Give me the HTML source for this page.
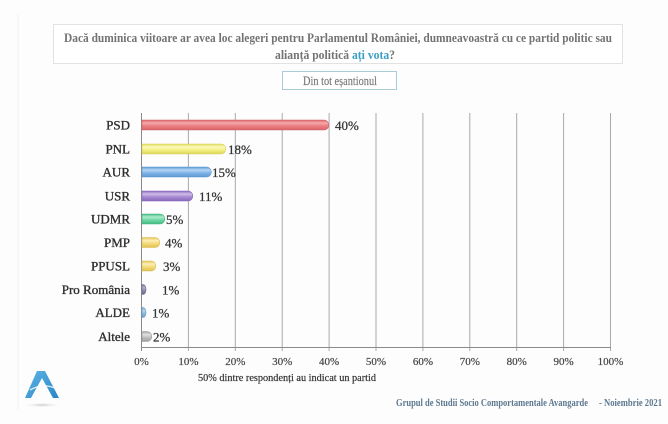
<!DOCTYPE html>
<html><head><meta charset="utf-8"><style>
html,body{margin:0;padding:0;background:#fdfdfd;}
svg{display:block;}
text{font-family:"Liberation Serif","DejaVu Serif",serif;}
</style></head><body>
<svg width="668" height="424" viewBox="0 0 668 424" xmlns="http://www.w3.org/2000/svg">
<defs>
<linearGradient id="gPSD" x1="0" y1="0" x2="0" y2="1"><stop offset="0" stop-color="#d9666b"/><stop offset="0.3" stop-color="#f4a9ab"/><stop offset="0.6" stop-color="#ec7d81"/><stop offset="1" stop-color="#d7646a"/></linearGradient>
<linearGradient id="gPNL" x1="0" y1="0" x2="0" y2="1"><stop offset="0" stop-color="#e2dc5e"/><stop offset="0.3" stop-color="#fbf9bd"/><stop offset="0.6" stop-color="#f4ef82"/><stop offset="1" stop-color="#dcd55a"/></linearGradient>
<linearGradient id="gAUR" x1="0" y1="0" x2="0" y2="1"><stop offset="0" stop-color="#5f9bd6"/><stop offset="0.3" stop-color="#b6d6f3"/><stop offset="0.6" stop-color="#7fb4e7"/><stop offset="1" stop-color="#5d97d1"/></linearGradient>
<linearGradient id="gUSR" x1="0" y1="0" x2="0" y2="1"><stop offset="0" stop-color="#8a6bbf"/><stop offset="0.3" stop-color="#d0bde9"/><stop offset="0.6" stop-color="#a68ad2"/><stop offset="1" stop-color="#8767bd"/></linearGradient>
<linearGradient id="gUDMR" x1="0" y1="0" x2="0" y2="1"><stop offset="0" stop-color="#45bd84"/><stop offset="0.3" stop-color="#aeeccd"/><stop offset="0.6" stop-color="#6fd6a4"/><stop offset="1" stop-color="#44b880"/></linearGradient>
<linearGradient id="gPMP" x1="0" y1="0" x2="0" y2="1"><stop offset="0" stop-color="#e4c553"/><stop offset="0.3" stop-color="#fbefb9"/><stop offset="0.6" stop-color="#f4da7a"/><stop offset="1" stop-color="#dfc050"/></linearGradient>
<linearGradient id="gPRO" x1="0" y1="0" x2="0" y2="1"><stop offset="0" stop-color="#6d6d92"/><stop offset="0.3" stop-color="#b6b6cf"/><stop offset="0.6" stop-color="#8a8aac"/><stop offset="1" stop-color="#6a6a8e"/></linearGradient>
<linearGradient id="gALDE" x1="0" y1="0" x2="0" y2="1"><stop offset="0" stop-color="#6aa3cf"/><stop offset="0.3" stop-color="#bcdaf0"/><stop offset="0.6" stop-color="#8bbde0"/><stop offset="1" stop-color="#669fcb"/></linearGradient>
<linearGradient id="gALT" x1="0" y1="0" x2="0" y2="1"><stop offset="0" stop-color="#a3a3a3"/><stop offset="0.3" stop-color="#e0e0e0"/><stop offset="0.6" stop-color="#bebebe"/><stop offset="1" stop-color="#9f9f9f"/></linearGradient>
<linearGradient id="gLogo" x1="0" y1="0" x2="1" y2="1"><stop offset="0" stop-color="#5fb4e6"/><stop offset="1" stop-color="#2a86c6"/></linearGradient>
<radialGradient id="gShadow" cx="0.5" cy="0.5" r="0.5"><stop offset="0" stop-color="#c8c8c8"/><stop offset="1" stop-color="#fdfdfd" stop-opacity="0"/></radialGradient>
</defs>

<line x1="18" y1="14" x2="18" y2="410" stroke="#f1f1f1" stroke-width="1"/>

<!-- Title box -->
<rect x="53.5" y="24.5" width="569" height="39" fill="#ffffff" stroke="#e2e2e2" stroke-width="1"/>
<text x="64" y="42" font-size="12.5" font-weight="bold" fill="#737373" textLength="548" lengthAdjust="spacingAndGlyphs">Dacă duminica viitoare ar avea loc alegeri pentru Parlamentul României, dumneavoastră cu ce partid politic sau</text>
<text x="275" y="59" font-size="12.5" font-weight="bold" fill="#737373" textLength="120" lengthAdjust="spacingAndGlyphs">alianță politică <tspan fill="#3a9fc2">ați vota</tspan>?</text>

<!-- Din tot esantionul -->
<rect x="282.5" y="71.5" width="114" height="18" fill="#ffffff" stroke="#a8cdd6" stroke-width="1"/>
<text x="340" y="85" font-size="12.5" fill="#777" stroke="#777" stroke-width="0.15" text-anchor="middle" textLength="74" lengthAdjust="spacingAndGlyphs">Din tot eșantionul</text>

<!-- gridlines -->
<g stroke="#a9a9a9" stroke-width="1">
<line x1="188.4" y1="113" x2="188.4" y2="351"/>
<line x1="235.3" y1="113" x2="235.3" y2="351"/>
<line x1="282.2" y1="113" x2="282.2" y2="351"/>
<line x1="329.1" y1="113" x2="329.1" y2="351"/>
<line x1="376" y1="113" x2="376" y2="351"/>
<line x1="422.9" y1="113" x2="422.9" y2="351"/>
<line x1="469.8" y1="113" x2="469.8" y2="351"/>
<line x1="516.7" y1="113" x2="516.7" y2="351"/>
<line x1="563.6" y1="113" x2="563.6" y2="351"/>
<line x1="610.5" y1="113" x2="610.5" y2="351"/>
</g>
<line x1="141.5" y1="113" x2="141.5" y2="351" stroke="#8a8a8a" stroke-width="1"/>
<line x1="141" y1="347.5" x2="611" y2="347.5" stroke="#8a8a8a" stroke-width="1"/>

<!-- tick labels -->
<g font-size="11" fill="#444" stroke="#444" stroke-width="0.2" text-anchor="middle">
<text x="141.5" y="365">0%</text>
<text x="188.4" y="365">10%</text>
<text x="235.3" y="365">20%</text>
<text x="282.2" y="365">30%</text>
<text x="329.1" y="365">40%</text>
<text x="376" y="365">50%</text>
<text x="422.9" y="365">60%</text>
<text x="469.8" y="365">70%</text>
<text x="516.7" y="365">80%</text>
<text x="563.6" y="365">90%</text>
<text x="610.5" y="365">100%</text>
</g>
<text x="198" y="381" font-size="10.5" fill="#333" stroke="#333" stroke-width="0.2" textLength="178" lengthAdjust="spacingAndGlyphs">50% dintre respondenți au indicat un partid</text>

<!-- category labels -->
<g font-size="13" fill="#2e2e2e" stroke="#2e2e2e" stroke-width="0.35" text-anchor="end">
<text x="130" y="129.5">PSD</text>
<text x="130" y="153.5">PNL</text>
<text x="130" y="176.5">AUR</text>
<text x="130" y="200.5">USR</text>
<text x="130" y="223.5">UDMR</text>
<text x="130" y="247">PMP</text>
<text x="130" y="270.5">PPUSL</text>
<text x="130" y="294">Pro România</text>
<text x="130" y="317">ALDE</text>
<text x="130" y="341">Altele</text>
</g>

<!-- bars -->
<g stroke-width="0.6">
<path d="M142 120 H324 a4.8 5 0 0 1 0 10 H142 Z" fill="url(#gPSD)" stroke="#d35e64"/>
<path d="M142 144 H221 a4.8 5 0 0 1 0 10 H142 Z" fill="url(#gPNL)" stroke="#d8d056"/>
<path d="M142 167 H206.5 a4.8 5 0 0 1 0 10 H142 Z" fill="url(#gAUR)" stroke="#5a93cd"/>
<path d="M142 191 H188 a4.8 5 0 0 1 0 10 H142 Z" fill="url(#gUSR)" stroke="#8464ba"/>
<path d="M142 214 H160 a4.8 5 0 0 1 0 10 H142 Z" fill="url(#gUDMR)" stroke="#40b47c"/>
<path d="M142 237.5 H155 a4.8 5 0 0 1 0 10 H142 Z" fill="url(#gPMP)" stroke="#dbbb4c"/>
<path d="M142 261 H151 a4.8 5 0 0 1 0 10 H142 Z" fill="url(#gPMP)" stroke="#dbbb4c"/>
<path d="M142 284.5 H143 a3 5 0 0 1 0 10 H142 Z" fill="url(#gPRO)" stroke="#66668a"/>
<path d="M142 307.5 H143 a3 5 0 0 1 0 10 H142 Z" fill="url(#gALDE)" stroke="#629bc7"/>
<path d="M142 331.5 H147 a4.8 5 0 0 1 0 10 H142 Z" fill="url(#gALT)" stroke="#9a9a9a"/>
</g>

<!-- value labels -->
<g font-size="13" fill="#333" stroke="#333" stroke-width="0.25">
<text x="335" y="130">40%</text>
<text x="228" y="154">18%</text>
<text x="212" y="177">15%</text>
<text x="199" y="201">11%</text>
<text x="166" y="224">5%</text>
<text x="165" y="247.5">4%</text>
<text x="163" y="271">3%</text>
<text x="162" y="294.5">1%</text>
<text x="152" y="317.5">1%</text>
<text x="153" y="341.5">2%</text>
</g>

<!-- logo -->
<ellipse cx="42" cy="405" rx="20" ry="2.5" fill="url(#gShadow)"/>
<path d="M25 398 L37 371 L45 371 L59 398 L53 398 L42 378 L31 398 Z" fill="url(#gLogo)"/>
<path d="M30 390 Q42 383 55 388" stroke="#ffffff" stroke-width="1.4" fill="none" opacity="0.8"/>

<!-- footer -->
<text x="396" y="406" font-size="10" font-weight="bold" fill="#5d7890" textLength="192" lengthAdjust="spacingAndGlyphs">Grupul de Studii Socio Comportamentale Avangarde</text>
<text x="599" y="406" font-size="10" font-weight="bold" fill="#5d7890" textLength="63" lengthAdjust="spacingAndGlyphs">- Noiembrie 2021</text>
</svg>
</body></html>
